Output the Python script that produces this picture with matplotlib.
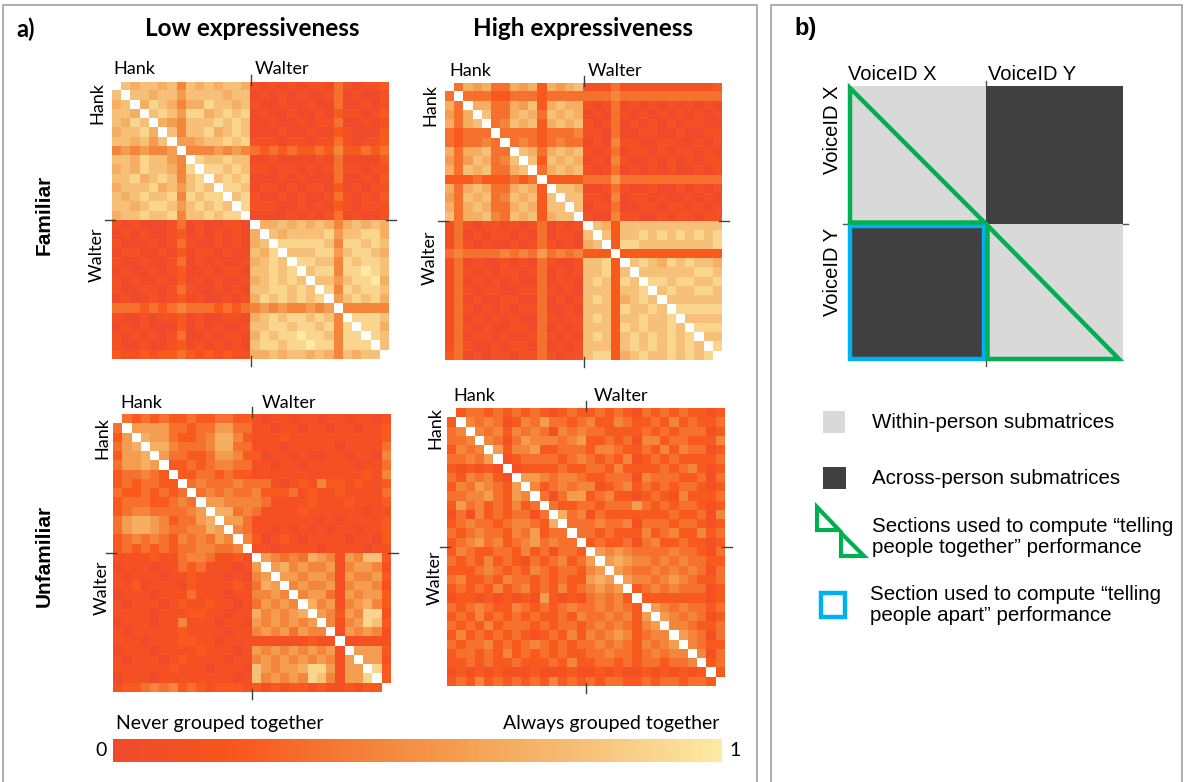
import numpy as np
import matplotlib
matplotlib.use("Agg")
import matplotlib.pyplot as plt
from matplotlib.colors import LinearSegmentedColormap, Normalize
from matplotlib.patches import Rectangle, Polygon
from matplotlib.colorbar import ColorbarBase

# grouping matrices, lower triangle only, one digit per cell (0 = never, 9 = always)
# rows 1..14 are Hank clips, rows 15..29 Walter clips; a space splits the Hank / Walter columns
fam_low = [
    "7", "67", "776", "7687", "67786", "776757", "4545445", "77687754",
    "676877648", "7786787478", "67778675787", "767877848788", "7767887578787",
    "67787784778788",
    "101000130100110 ",
    "010100120101010 6",
    "100010131001010 67",
    "011001020110100 768",
    "100100130101001 6787",
    "010010120010110 77878",
    "101001020101001 678787",
    "100110131001010 7788787",
    "010010120100101 68787878",
    "333232343332323 454544545",
    "100101120100110 6787887874",
    "010100020101001 77887887848",
    "101010130010110 687889887488",
    "100100120101010 7887889884888",
    "211212232121211 66767767647677",
]
fam_high = [
    "3", "63", "536", "6367", "32333", "323343", "6366733", "53576347",
    "637673367", "2223222323", "63676336762", "537673476727", "6367633676277",
    "73667437672677",
    "131011010130101 ",
    "130101101030110 7",
    "131010010131010 67",
    "343333434353434 222",
    "130100101031001 7782",
    "131010110130101 77827",
    "130101010030110 787287",
    "131011001131010 7772778",
    "130100110030101 78726787",
    "131010101130010 777287787",
    "130101010031011 7872778778",
    "131010011030101 77728787787",
    "130110100131010 787278787878",
    "131001011030101 7772787878787",
    "230101101131011 78826787787878",
]
unf_low = [
    "3", "25", "356", "2556", "35565", "233432", "2323322", "32232323",
    "233322343", "2344333345", "35665423356", "356654334465", "2343432434354",
    "23232323344334",
    "111121134431121 ",
    "011101132311101 5",
    "101110112111010 45",
    "112011102111121 365",
    "011101113111011 4454",
    "101110121121101 35454",
    "111101112211011 645456",
    "011101141110110 5454545",
    "101111121111011 45453544",
    "111011122110111 111111211",
    "011101111211101 5454545451",
    "101110121111011 45454545415",
    "111111211101110 754556885155",
    "011101111111101 7454548741558",
    "122343423212221 21212212112122",
]
unf_high = [
    "2", "34", "334", "2434", "33435", "212121", "3243421", "24354325",
    "334453254", "2534232423", "13142323313", "234332344326", "3234332435233",
    "23453423453433",
    "243223324231332 ",
    "323242321323423 5",
    "222343232432332 45",
    "342232433232322 565",
    "232324234232423 4545",
    "122121212152121 34342",
    "323432243232343 343432",
    "232423232322324 3343425",
    "323242333232332 34343245",
    "242323232123242 434542344",
    "323342323432323 3434324345",
    "233232423232322 33433234344",
    "223232232223242 233232332334",
    "121212111211121 1212112121212",
    "232423232324232 32332232332332",
]

row_titles = ["Familiar", "Unfamiliar"]
col_titles = ["Low expressiveness", "High expressiveness"]
ids = ["Hank", "Walter"]
bar_labels = ["Never grouped together", "Always grouped together"]
legend_texts = [
    "Within-person submatrices",
    "Across-person submatrices",
    "Sections used to compute \u201ctelling\npeople together\u201d performance",
    "Section used to compute \u201ctelling\npeople apart\u201d performance",
]


def build(rows):
    n = len(rows) + 1
    m = np.full((n, n), np.nan)
    for i, s in enumerate(rows, start=1):
        s = s.replace(" ", "")
        assert len(s) == i, (i, s)
        for j, ch in enumerate(s):
            m[i, j] = m[j, i] = int(ch) / 9
    return m


W, H = 1184, 782
fig = plt.figure(figsize=(W / 100, H / 100), dpi=100)

cmap = LinearSegmentedColormap.from_list(
    "grp", ["#ef4a2c", "#f9561c", "#f47f36", "#f4a456", "#f7c47c", "#fdeaa3"])
cmap.set_bad("white")

calibri = ["Lato", "DejaVu Sans"]
arial = ["Liberation Sans", "DejaVu Sans"]

# background layer in pixel coordinates
bg = fig.add_axes([0, 0, 1, 1])
bg.set_xlim(0, W)
bg.set_ylim(H, 0)
bg.axis("off")

frame = "#a0a0a0"
bg.plot([3, 3, 757, 757], [782, 5, 5, 782], color=frame, lw=1.2)
bg.plot([771, 771, 1182, 1182], [782, 5, 5, 782], color=frame, lw=1.2)

bg.text(16, 29, "a)", fontsize=17, fontweight="bold", family=calibri, va="center")
bg.text(252, 29, col_titles[0], fontsize=17.5, fontweight="bold", family=calibri,
        ha="center", va="center")
bg.text(583, 29, col_titles[1], fontsize=17.5, fontweight="bold", family=calibri,
        ha="center", va="center")
bg.text(44, 215, row_titles[0], fontsize=15, fontweight="bold", family=arial,
        rotation=90, ha="center", va="center")
bg.text(44, 556, row_titles[1], fontsize=15, fontweight="bold", family=arial,
        rotation=90, ha="center", va="center")

# heatmaps: (matrix, left, top, size, label spots)
panels = [
    (fam_low, 112, 82, 277, (113, 69), (255, 69), (97, 103), (97, 255)),
    (fam_high, 445, 83, 277, (449, 71), (588, 71), (430, 105), (430, 258)),
    (unf_low, 113, 414, 278, (120, 403), (262, 403), (102, 438), (102, 588)),
    (unf_high, 447, 408, 278, (453, 396), (594, 396), (435, 428), (435, 578)),
]

for rows, x0, y0, size, hk, wt, hk_r, wt_r in panels:
    m = build(rows)
    n = m.shape[0]
    ax = fig.add_axes([x0 / W, 1 - (y0 + size) / H, size / W, size / H])
    ax.imshow(m, cmap=cmap, vmin=0, vmax=1, interpolation="nearest", aspect="auto")
    ax.set_axis_off()
    mid = n / 2 - 0.5
    lo, hi = -0.5, n - 0.5
    tk = dict(color="#404040", lw=1, clip_on=False)
    ax.plot([mid, mid], [lo - 0.8, lo + 0.3], **tk)
    ax.plot([mid, mid], [hi - 0.3, hi + 0.8], **tk)
    ax.plot([lo - 0.8, lo + 0.3], [mid, mid], **tk)
    ax.plot([hi - 0.3, hi + 0.8], [mid, mid], **tk)
    ax.set_xlim(lo, hi)
    ax.set_ylim(hi, lo)
    bg.text(hk[0], hk[1], ids[0], fontsize=13, family=calibri, va="center")
    bg.text(wt[0], wt[1], ids[1], fontsize=13, family=calibri, va="center")
    bg.text(hk_r[0], hk_r[1], ids[0], fontsize=13, family=calibri, rotation=90,
            ha="center", va="center")
    bg.text(wt_r[0], wt_r[1], ids[1], fontsize=13, family=calibri, rotation=90,
            ha="center", va="center")

# colour bar
cax = fig.add_axes([113 / W, 1 - 762 / H, 609 / W, 23 / H])
cb = ColorbarBase(cax, cmap=cmap, norm=Normalize(0, 1), orientation="horizontal")
cb.outline.set_visible(False)
cax.set_xticks([])
bg.text(107, 751, "0", fontsize=14, family=calibri, ha="right", va="center")
bg.text(729, 751, "1", fontsize=14, family=calibri, ha="left", va="center")
bg.text(116, 724, bar_labels[0], fontsize=14, family=calibri, va="center")
bg.text(719, 724, bar_labels[1], fontsize=14, family=calibri, ha="right", va="center")

# panel b: schematic
light, dark = "#d9d9d9", "#404040"
green, blue = "#00b050", "#00b0f0"
sx, sy, s = 848, 86, 275
h = s / 2
bg.text(794, 29, "b)", fontsize=17, fontweight="bold", family=arial, va="center")
bg.add_patch(Rectangle((sx, sy), h, h, color=light, lw=0, zorder=1))
bg.add_patch(Rectangle((sx + h, sy + h), h, h, color=light, lw=0, zorder=1))
bg.add_patch(Rectangle((sx + h, sy), h, h, color=dark, lw=0, zorder=1))
bg.add_patch(Rectangle((sx, sy + h), h, h, color=dark, lw=0, zorder=1))
bg.plot([sx, sx + s], [sy, sy + s], color="white", lw=1.2, zorder=1.5)
for xs, ys in [([sx + h, sx + h], [sy - 5, sy]), ([sx + h, sx + h], [sy + s, sy + s + 5]),
               ([sx - 5, sx], [sy + h, sy + h]), ([sx + s, sx + s + 5], [sy + h, sy + h])]:
    bg.plot(xs, ys, color="#555555", lw=1)
bg.add_patch(Rectangle((sx + 2, sy + h + 2), h - 4, h - 4, fill=False,
                       edgecolor=blue, lw=3.2, joinstyle="miter", zorder=3))
bg.add_patch(Polygon([(sx + 2, sy + 2), (sx + 2, sy + h - 1), (sx + h - 1, sy + h - 1)],
                     closed=True, fill=False, edgecolor=green, lw=3.2, joinstyle="miter", zorder=3))
bg.add_patch(Polygon([(sx + h + 2, sy + h + 2), (sx + h + 2, sy + s - 2), (sx + s - 4, sy + s - 2)],
                     closed=True, fill=False, edgecolor=green, lw=3.2, joinstyle="miter", zorder=3))
bg.text(sx, 74, "VoiceID X", fontsize=14.5, family=arial, va="center")
bg.text(sx + h + 2, 74, "VoiceID Y", fontsize=14.5, family=arial, va="center")
bg.text(833, 130, "VoiceID X", fontsize=14.5, family=arial, rotation=90,
        ha="center", va="center")
bg.text(833, 272, "VoiceID Y", fontsize=14.5, family=arial, rotation=90,
        ha="center", va="center")

# panel b: legend
bg.add_patch(Rectangle((823, 411), 22, 22, color=light, lw=0))
bg.add_patch(Rectangle((823, 467), 23, 22, color=dark, lw=0))
bg.add_patch(Polygon([(817, 507), (817, 530), (839, 530)], closed=True, fill=False,
                     edgecolor=green, lw=3, joinstyle="miter"))
bg.add_patch(Polygon([(841, 533), (841, 556), (864, 556)], closed=True, fill=False,
                     edgecolor=green, lw=3, joinstyle="miter"))
bg.add_patch(Rectangle((821, 593), 24, 24, fill=False, edgecolor=blue, lw=3.2))
bg.text(872, 422, legend_texts[0], fontsize=14.8, family=arial, va="center")
bg.text(872, 478, legend_texts[1], fontsize=14.8, family=arial, va="center")
bg.text(872, 537, legend_texts[2], fontsize=14.8, family=arial, va="center", linespacing=1.1)
bg.text(870, 605, legend_texts[3], fontsize=14.8, family=arial, va="center", linespacing=1.1)

fig.savefig("out.png", dpi=100)
